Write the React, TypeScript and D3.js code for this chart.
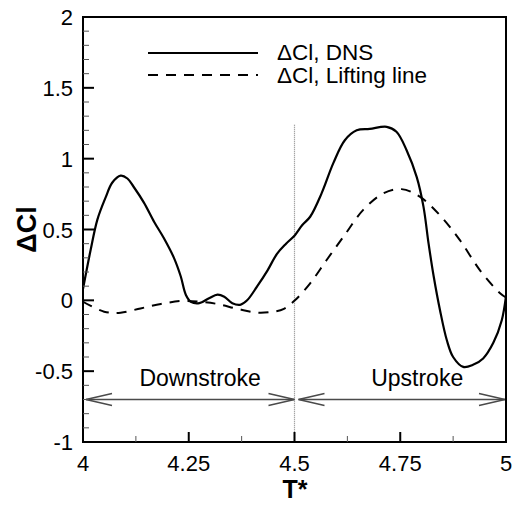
import React from "react";
import * as d3 from "d3";

const dnsT = [4.0, 4.018, 4.034, 4.054, 4.069, 4.089, 4.105, 4.12, 4.144, 4.168, 4.191, 4.215, 4.231, 4.243, 4.255, 4.275, 4.298, 4.318, 4.334, 4.353, 4.373, 4.388, 4.412, 4.436, 4.459, 4.48, 4.501, 4.518, 4.537, 4.564, 4.592, 4.619, 4.647, 4.678, 4.718, 4.741, 4.765, 4.789, 4.805, 4.817, 4.829, 4.844, 4.86, 4.875, 4.899, 4.922, 4.946, 4.97, 4.99, 5.0];
const dnsV = [0.08, 0.355, 0.57, 0.73, 0.83, 0.88, 0.86, 0.8, 0.69, 0.555, 0.44, 0.3, 0.17, 0.04, -0.01, -0.02, 0.015, 0.04, 0.025, -0.02, -0.03, 0.0, 0.1, 0.21, 0.33, 0.4, 0.46, 0.53, 0.59, 0.755, 0.97, 1.13, 1.2, 1.21, 1.225, 1.19, 1.06, 0.87, 0.66, 0.4, 0.17, -0.07, -0.28, -0.4, -0.47, -0.455, -0.41, -0.3, -0.14, 0.03];

const llT = [4.0, 4.05, 4.089, 4.136, 4.184, 4.231, 4.275, 4.318, 4.365, 4.412, 4.45, 4.475, 4.501, 4.537, 4.576, 4.616, 4.663, 4.71, 4.753, 4.797, 4.844, 4.891, 4.939, 4.986, 5.0];
const llV = [-0.01, -0.08, -0.087, -0.057, -0.026, -0.005, -0.01, -0.026, -0.06, -0.087, -0.08, -0.06, 0.0, 0.12, 0.285, 0.45, 0.64, 0.755, 0.785, 0.73, 0.6, 0.425, 0.21, 0.05, 0.02];

const xTicks = [4, 4.25, 4.5, 4.75, 5];
const xTickLabels = ["4", "4.25", "4.5", "4.75", "5"];
const yTicks = [-1, -0.5, 0, 0.5, 1, 1.5, 2];
const yTickLabels = ["-1", "-0.5", "0", "0.5", "1", "1.5", "2"];

const seriesNames = ["\u0394Cl, DNS", "\u0394Cl, Lifting line"];
const phaseLabels = ["Downstroke", "Upstroke"];
const phaseStart = [4.0, 4.5];
const phaseEnd = [4.5, 5.0];
const phaseLabelAt = [4.277, 4.79];
const phaseArrowValue = -0.7;
const phaseLabelValue = -0.605;
const dividerT = 4.5;
const dividerTop = 1.24;

export default function App() {
  const W = 512, H = 506;
  const x = d3.scaleLinear().domain([4, 5]).range([83, 506]);
  const y = d3.scaleLinear().domain([-1, 2]).range([442, 17]);

  const line = d3
    .line<[number, number]>()
    .x((d) => x(d[0]))
    .y((d) => y(d[1]))
    .curve(d3.curveCatmullRom.alpha(0.5));

  const dnsPts: [number, number][] = dnsT.map((t, i) => [t, dnsV[i]]);
  const llPts: [number, number][] = llT.map((t, i) => [t, llV[i]]);

  const xMinor = d3.range(4, 5.0001, 0.125).filter((v) => !xTicks.some((t) => Math.abs(t - v) < 1e-6));
  const yMinor = d3.range(-1, 2.0001, 0.1).filter((v) => !yTicks.some((t) => Math.abs(t - v) < 1e-6));

  const font = "'Liberation Sans', Arial, sans-serif";
  const arrowColor = "#4a4a4a";

  const arrowHead = (tipX: number, tipY: number, dir: number) =>
    `M${tipX + dir * 26},${tipY - 6} L${tipX},${tipY} L${tipX + dir * 26},${tipY + 6}`;

  return (
    <svg
      width={W}
      height={H}
      style={{ position: "absolute", left: 0, top: 0, background: "#fff" }}
      fontFamily={font}
    >
      <rect x={0} y={0} width={W} height={H} fill="#fff" />

      {/* divider */}
      <line
        x1={x(dividerT)}
        x2={x(dividerT)}
        y1={y(dividerTop)}
        y2={y(-1)}
        stroke="#888"
        strokeWidth={1.2}
        strokeDasharray="1,1"
      />

      {/* phase arrows */}
      {phaseLabels.map((lab, i) => {
        const x1 = x(phaseStart[i]) + (i === 0 ? 3 : 4);
        const x2 = x(phaseEnd[i]) - (i === 0 ? 0 : 1);
        const yy = y(phaseArrowValue);
        return (
          <g key={lab}>
            <line x1={x1} x2={x2} y1={yy} y2={yy} stroke={arrowColor} strokeWidth={1.5} />
            <path d={arrowHead(x1, yy, 1)} fill="none" stroke={arrowColor} strokeWidth={1.5} />
            <path d={arrowHead(x2, yy, -1)} fill="none" stroke={arrowColor} strokeWidth={1.5} />
            <text
              x={x(phaseLabelAt[i])}
              y={y(phaseLabelValue)}
              textAnchor="middle"
              fontSize={23}
              fill="#000"
            >
              {lab}
            </text>
          </g>
        );
      })}

      {/* series */}
      <path d={line(llPts) || ""} fill="none" stroke="#000" strokeWidth={2} strokeDasharray="10,8" />
      <path d={line(dnsPts) || ""} fill="none" stroke="#000" strokeWidth={2.2} />

      {/* frame */}
      <rect x={83} y={17} width={423} height={425} fill="none" stroke="#000" strokeWidth={2} />

      {/* x ticks */}
      {xTicks.map((t, i) => (
        <g key={"xt" + i}>
          <line x1={x(t)} x2={x(t)} y1={y(-1)} y2={y(-1) - 10} stroke="#000" strokeWidth={2} />
          <text x={x(t)} y={471} textAnchor="middle" fontSize={22} fill="#000">
            {xTickLabels[i]}
          </text>
        </g>
      ))}
      {xMinor.map((t, i) => (
        <line key={"xm" + i} x1={x(t)} x2={x(t)} y1={y(-1)} y2={y(-1) - 6} stroke="#555" strokeWidth={1} />
      ))}

      {/* y ticks */}
      {yTicks.map((v, i) => (
        <g key={"yt" + i}>
          <line x1={83} x2={94} y1={y(v)} y2={y(v)} stroke="#000" strokeWidth={2} />
          <text x={73} y={y(v) + 8} textAnchor="end" fontSize={22} fill="#000">
            {yTickLabels[i]}
          </text>
        </g>
      ))}
      {yMinor.map((v, i) => (
        <line key={"ym" + i} x1={83} x2={89} y1={y(v)} y2={y(v)} stroke="#555" strokeWidth={1} />
      ))}

      {/* axis titles */}
      <text x={295} y={498} textAnchor="middle" fontSize={25} fontWeight="bold" fill="#000">
        T*
      </text>
      <text
        transform={`translate(36,${y(0.5)}) rotate(-90)`}
        textAnchor="middle"
        fontSize={27}
        fontWeight="bold"
        fill="#000"
      >
        {"\u0394Cl"}
      </text>

      {/* legend */}
      <line x1={148} x2={258} y1={53} y2={53} stroke="#000" strokeWidth={2} />
      <text x={277} y={60} fontSize={22.5} fill="#000">
        {seriesNames[0]}
      </text>
      <line x1={148} x2={258} y1={75} y2={75} stroke="#000" strokeWidth={2} strokeDasharray="10,8" />
      <text x={277} y={83} fontSize={22.5} fill="#000">
        {seriesNames[1]}
      </text>
    </svg>
  );
}
